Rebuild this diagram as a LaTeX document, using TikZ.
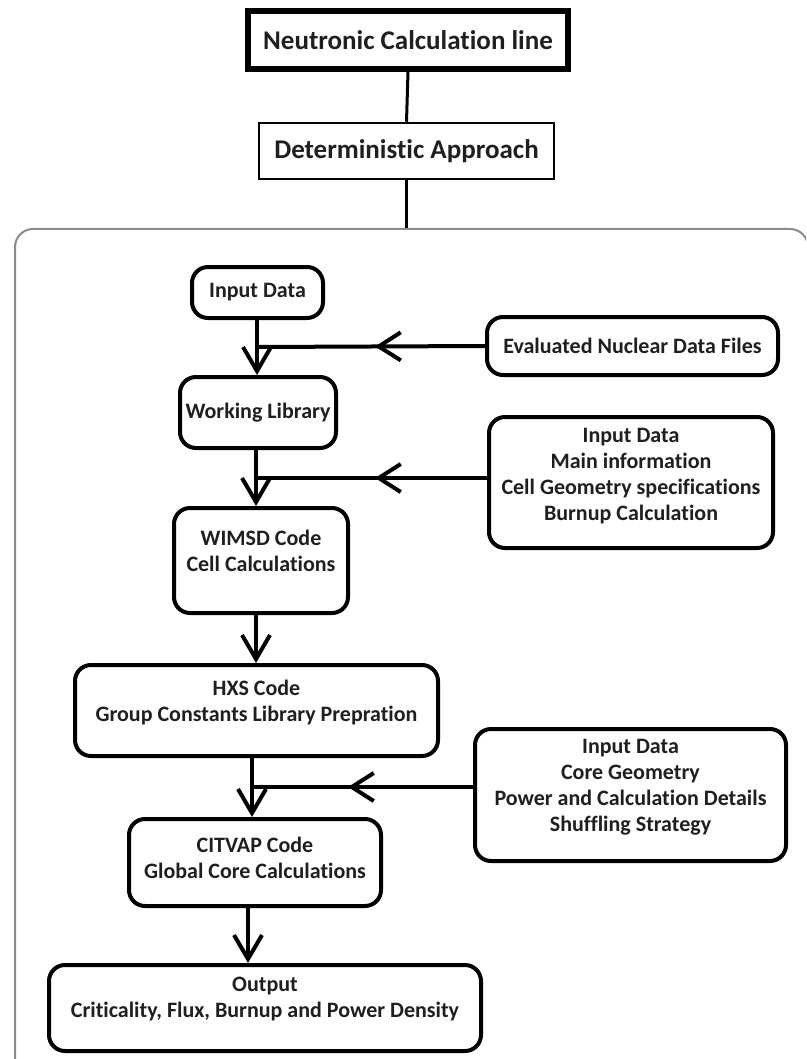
\documentclass[tikz,border=0pt]{standalone}
\usepackage{fontspec}
\setmainfont[Ligatures={NoCommon}]{Carlito}
\usetikzlibrary{arrows.meta,decorations.markings}
\begin{document}
\begin{tikzpicture}[x=1pt,y=-1pt,
  title/.style={draw=black, font=\bfseries\fontsize{27}{30}\selectfont, text=black!88, inner sep=0pt},
  box/.style={draw=black, line width=4pt, rounded corners=16pt, inner sep=0pt},
  txt/.style={font=\bfseries\fontsize{22}{26}\selectfont, align=center, text=black!88, inner sep=0pt},
  container/.style={draw=black!45, line width=2pt, rounded corners=18pt, inner sep=0pt},
  conn/.style={draw=black, line width=4pt},
  tipped/.style={conn, -{Straight Barb[length=24pt,width=28pt]}},
  midtip/.style={conn, postaction={decorate},
    decoration={markings, mark=at position #1 with {\arrow{Straight Barb[length=22pt,width=28pt]}}}}
]
\useasboundingbox (0,0) rectangle (806,1059);
\clip (0,0) rectangle (806,1059);
\fill[white] (0,0) rectangle (806,1059);

% outer container
\node[container, minimum width=793pt, minimum height=850pt] (cont) at (411.5,654) {};

% header
\node[title, line width=6pt, minimum width=320pt, minimum height=58pt] (ncl) at (408,40) {Neutronic Calculation line};
\node[title, line width=2.5pt, minimum width=295pt, minimum height=56pt] (det) at (406.5,151) {Deterministic Approach};
\draw[line width=3pt] (ncl.south) -- (det.north);
\draw[line width=3pt] (det.south) -- (det.south |- cont.north);

% boxes
\node[box, minimum width=131pt, minimum height=51pt] (in1) at (257.5,292.5) {};
\node[txt] (in1t) at (in1.center) {Input Data};

\node[box, minimum width=156pt, minimum height=71pt] (wl) at (258,412.5) {};
\node[txt] (wlt) at (wl.center) {Working Library};

\node[box, minimum width=291pt, minimum height=58pt] (evf) at (632.5,346) {};
\node[txt] (evft) at (evf.center) {Evaluated Nuclear Data Files};

\node[box, minimum width=284pt, minimum height=131pt] (inp2) at (631,482.5) {};
\node[txt] (inp2t) at ([yshift=6pt]inp2.center) {Input Data\\Main information\\Cell Geometry specifications\\Burnup Calculation};

\node[box, minimum width=174pt, minimum height=105pt] (wim) at (261,560.5) {};
\node[txt] (wimt) at ([yshift=10pt]wim.center) {WIMSD Code\\Cell Calculations};

\node[box, minimum width=363pt, minimum height=91pt] (hxs) at (256.5,710.5) {};
\node[txt] (hxst) at ([yshift=7.5pt]hxs.center) {HXS Code\\Group Constants Library Prepration};

\node[box, minimum width=311pt, minimum height=132pt] (inp3) at (630.5,795) {};
\node[txt] (inp3t) at ([yshift=8pt]inp3.center) {Input Data\\Core Geometry\\Power and Calculation Details\\Shuffling Strategy};

\node[box, minimum width=252pt, minimum height=87pt] (cit) at (255,862.5) {};
\node[txt] (citt) at ([yshift=5pt]cit.center) {CITVAP Code\\Global Core Calculations};

\node[box, minimum width=432pt, minimum height=86pt] (out) at (265,1008) {};
\node[txt] (outt) at ([yshift=9pt]out.center) {Output\\Criticality, Flux, Burnup and Power Density};

% junctions
\coordinate (j1) at (257,347);
\coordinate (j2) at (256,478);
\coordinate (j3) at (252,787);
\coordinate (j4) at (248,935);

% connectors
\draw[tipped] (in1.south -| j1) -- (wl.north -| j1);
\draw[midtip=110pt] (evf.west) -- (j1);

\draw[tipped] (wl.south -| j2) -- (wim.north -| j2);
\draw[midtip=112pt] (inp2.west |- j2) -- (j2);

\draw[tipped] (wim.south -| j2) -- (hxs.north -| j2);

\draw[tipped] (hxs.south -| j3) -- (cit.north -| j3);
\draw[midtip=125pt] (inp3.west |- j3) -- (j3);

\draw[tipped] (cit.south -| j4) -- (out.north -| j4);
\end{tikzpicture}
\end{document}
